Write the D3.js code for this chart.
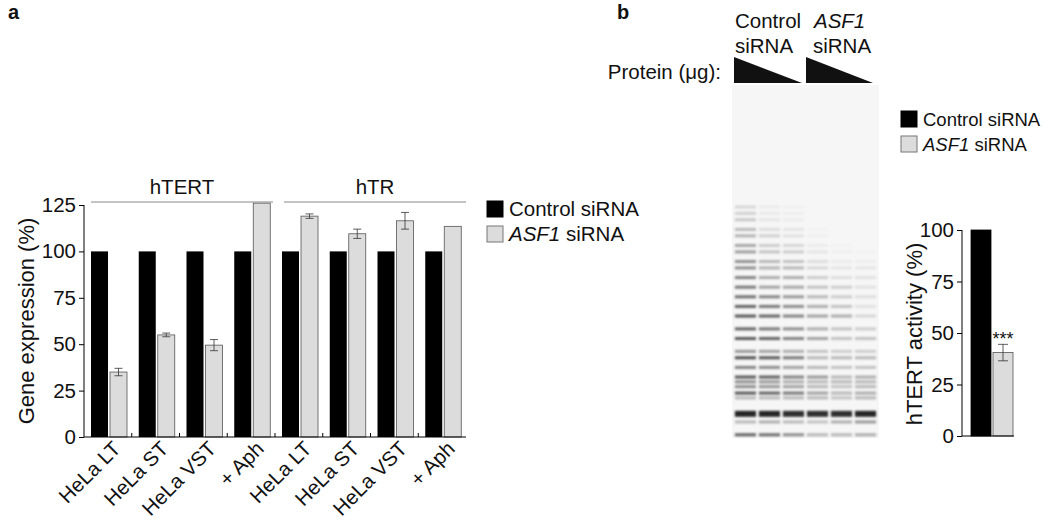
<!DOCTYPE html>
<html><head><meta charset="utf-8">
<script src="https://cdn.jsdelivr.net/npm/d3@7"></script>
<style>body{margin:0;background:#fff}text{font-family:"Liberation Sans",Arial,sans-serif;fill:#111}</style>
</head><body><svg width="1050" height="521"></svg>
<script>
const groups = ["HeLa LT","HeLa ST","HeLa VST","+ Aph","HeLa LT","HeLa ST","HeLa VST","+ Aph"];
const controlVals = [100,100,100,100,100,100,100,100];
const asf1Vals = [35,55,49.5,126,119,109.5,116.5,113.5];
const asf1Err = [2,1,3,0,1.2,2.5,4.5,0];
const seriesNames = ["Control siRNA","ASF1 siRNA"];
const yTicks = [0,25,50,75,100,125];
const bTicks = [0,25,50,75,100];
const activityVals = [100,40.5];
const activityErr = [0,4];
// gel band rows: position (0 top .. 1.1 bottom of gel) and intensity per lane
const bandPos = [0.38,0.40,0.42,0.45,0.47,0.50,0.52,0.55,0.57,0.60,0.63,0.66,0.69,0.72,0.76,0.79,0.83,0.85,0.88,0.91,0.925,0.94,0.96,0.975,1.02,1.05,1.09];
const bandInt = [
 [.15,.05,.03,0,0,0],[.18,.06,.04,0,0,0],[.22,.08,.05,0,0,0],[.28,.12,.08,.02,0,0],
 [.32,.18,.1,.03,0,0],[.38,.2,.15,.05,.02,0],[.42,.24,.2,.08,.03,.02],[.48,.3,.25,.12,.05,.04],
 [.5,.32,.3,.15,.08,.08],[.55,.35,.35,.2,.12,.1],[.6,.4,.38,.25,.2,.1],[.65,.55,.45,.3,.2,.12],
 [.7,.6,.5,.35,.25,.1],[.75,.7,.55,.4,.35,.15],[.7,.6,.5,.35,.25,.2],[.75,.7,.55,.4,.25,.25],
 [.45,.4,.35,.25,.2,.2],[.8,.75,.6,.3,.3,.3],[.55,.5,.4,.3,.25,.25],[.75,.72,.55,.45,.3,.35],
 [.5,.45,.35,.3,.3,.3],[.5,.45,.4,.3,.25,.3],[.75,.7,.6,.4,.3,.35],[.3,.3,.3,.3,.25,.3],
 [1,1,.95,.95,.95,1],[.3,.35,.3,.25,.35,.45],[.7,.65,.5,.3,.3,.35]];

const FS = 20.5;
const svg = d3.select("svg");
svg.append("text").attr("x",8).attr("y",19).attr("font-size",20).attr("font-weight","bold").text("a");
svg.append("text").attr("x",617).attr("y",19).attr("font-size",20).attr("font-weight","bold").text("b");

// *** panel a ***
const x = d3.scaleBand().domain(d3.range(groups.length)).range([84,466]);
const y = d3.scaleLinear().domain([0,125]).range([437,205]);
const ga = svg.append("g");
ga.selectAll(".c").data(controlVals).enter().append("rect")
  .attr("x",(d,i)=>x(i)+7).attr("width",17).attr("y",d=>y(d)).attr("height",d=>y(0)-y(d)).attr("fill","#000");
ga.selectAll(".s").data(asf1Vals).enter().append("rect")
  .attr("x",(d,i)=>x(i)+26).attr("width",17).attr("y",d=>y(d)).attr("height",d=>y(0)-y(d))
  .attr("fill","#dcdcdc").attr("stroke","#555").attr("stroke-width",0.8);
asf1Vals.forEach((v,i)=>{
  if(!asf1Err[i]) return;
  const cx = x(i)+34.5;
  const g = ga.append("g").attr("stroke","#333").attr("stroke-width",0.8);
  g.append("line").attr("x1",cx).attr("x2",cx).attr("y1",y(v-asf1Err[i])).attr("y2",y(v+asf1Err[i]));
  [v-asf1Err[i],v+asf1Err[i]].forEach(e=>g.append("line").attr("x1",cx-4).attr("x2",cx+4).attr("y1",y(e)).attr("y2",y(e)));
});
ga.append("g").attr("transform","translate(84,0)")
  .call(d3.axisLeft(y).tickValues(yTicks).tickSize(5).tickPadding(3))
  .call(g=>g.select(".domain").attr("d","M0,437V205"))
  .call(g=>g.selectAll("text").attr("font-size",FS).attr("font-family","Liberation Sans,Arial"));
ga.append("g").attr("transform","translate(0,437)")
  .call(d3.axisBottom(x).tickValues(d3.range(1,groups.length)).tickFormat("").tickSize(-4))
  .call(g=>g.select(".domain").attr("d","M84,0H466"))
  .call(g=>g.selectAll(".tick").attr("transform",d=>`translate(${x(d)},0)`));
groups.forEach((t,i)=>{
  ga.append("text").attr("transform",`translate(${x(i)+x.bandwidth()/2+14},450) rotate(-45)`)
    .attr("text-anchor","end").attr("font-size",FS).text(t);
});
ga.append("text").attr("transform","translate(34,321) rotate(-90)").attr("text-anchor","middle").attr("font-size",22).text("Gene expression (%)");
[["hTERT",91,273],["hTR",284,466]].forEach(([t,a,b])=>{
  ga.append("line").attr("x1",a).attr("x2",b).attr("y1",202).attr("y2",202).attr("stroke","#888");
  ga.append("text").attr("x",(a+b)/2).attr("y",194).attr("text-anchor","middle").attr("font-size",FS).text(t);
});
function legend(g,x0,y0,fs){
  seriesNames.forEach((n,i)=>{
    g.append("rect").attr("x",x0).attr("y",y0+i*25).attr("width",16).attr("height",16)
      .attr("fill",i?"#dcdcdc":"#000").attr("stroke",i?"#777":"#000");
    const t = g.append("text").attr("x",x0+22).attr("y",y0+i*25+15).attr("font-size",fs);
    if(i){t.append("tspan").attr("font-style","italic").text("ASF1");t.append("tspan").text(" siRNA");}
    else t.text(n);
  });
}
legend(ga,487,201,FS);

// *** panel b: gel ***
const gb = svg.append("g");
gb.append("defs").append("filter").attr("id","blur").append("feGaussianBlur").attr("stdDeviation",0.9);
const gx = d3.scaleBand().domain(d3.range(6)).range([732,879]).padding(0.12);
const gy = d3.scaleLinear().domain([0,1.1]).range([85,438]);
gb.append("rect").attr("x",732).attr("y",85).attr("width",147).attr("height",353).attr("fill","#f6f6f6");
const gel = gb.append("g").attr("filter","url(#blur)");
bandPos.forEach((p,r)=>bandInt[r].forEach((v,l)=>{
  if(v<=0) return;
  gel.append("rect").attr("x",gx(l)).attr("width",gx.bandwidth()).attr("y",gy(p)-1.5).attr("height",r==24?6:3)
    .attr("fill","#000").attr("opacity",v*0.85);
}));
[[734,802],[806,873]].forEach(([a,b])=>gb.append("path").attr("d",`M${a},57L${a},83L${b},83Z`).attr("fill","#111"));
gb.append("text").attr("x",735).attr("y",28).attr("font-size",FS).text("Control");
gb.append("text").attr("x",735).attr("y",53).attr("font-size",FS).text("siRNA");
gb.append("text").attr("x",814).attr("y",28).attr("font-size",FS).attr("font-style","italic").text("ASF1");
gb.append("text").attr("x",813).attr("y",53).attr("font-size",FS).text("siRNA");
gb.append("text").attr("x",721).attr("y",79).attr("text-anchor","end").attr("font-size",FS).text("Protein (μg):");
legend(gb,901,111,18.5);

// *** panel b: activity bars ***
const by = d3.scaleLinear().domain([0,100]).range([436,230]);
const bx = [971,993];
gb.selectAll(".ab").data(activityVals).enter().append("rect")
  .attr("x",(d,i)=>bx[i]).attr("width",20).attr("y",d=>by(d)).attr("height",d=>by(0)-by(d))
  .attr("fill",(d,i)=>i?"#dcdcdc":"#000").attr("stroke",(d,i)=>i?"#555":"#000").attr("stroke-width",0.8);
{
  const v=activityVals[1], e=activityErr[1], cx=bx[1]+10;
  const g=gb.append("g").attr("stroke","#333").attr("stroke-width",0.8);
  g.append("line").attr("x1",cx).attr("x2",cx).attr("y1",by(v-e)).attr("y2",by(v+e));
  [v-e,v+e].forEach(k=>g.append("line").attr("x1",cx-5).attr("x2",cx+5).attr("y1",by(k)).attr("y2",by(k)));
  gb.append("text").attr("x",cx).attr("y",by(v+e)+1).attr("text-anchor","middle").attr("font-size",18).text("***");
}
gb.append("g").attr("transform","translate(962,0)")
  .call(d3.axisLeft(by).tickValues(bTicks).tickSize(5).tickPadding(3))
  .call(g=>g.select(".domain").attr("d","M0,436V230"))
  .call(g=>g.selectAll("text").attr("font-size",FS).attr("font-family","Liberation Sans,Arial"));
gb.append("line").attr("x1",962).attr("x2",1014).attr("y1",436).attr("y2",436).attr("stroke","#000");
gb.append("text").attr("transform","translate(922,334) rotate(-90)").attr("text-anchor","middle").attr("font-size",22).text("hTERT activity (%)");
</script></body></html>
